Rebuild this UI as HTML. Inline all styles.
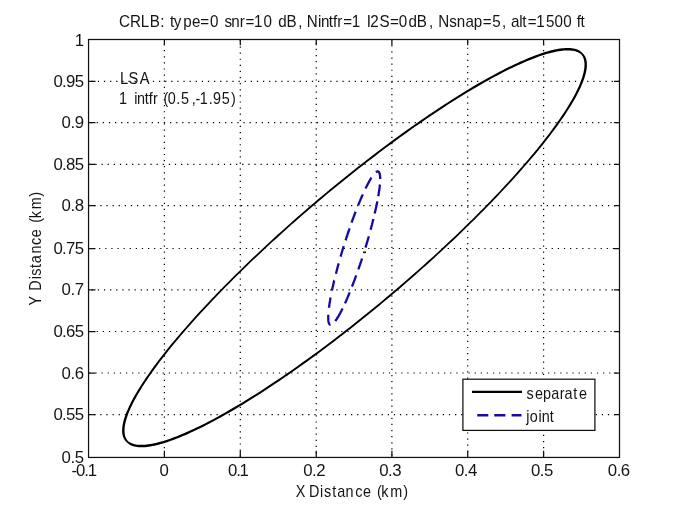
<!DOCTYPE html>
<html><head><meta charset="utf-8"><style>
html,body{margin:0;padding:0;background:#fff;}
svg{display:block;will-change:transform;}
text{font-family:"Liberation Sans",sans-serif;font-size:16px;fill:#141414;}
.tk{font-size:16.8px;}
</style></head><body>
<svg width="685" height="513" viewBox="0 0 685 513">
<rect width="685" height="513" fill="#fff"/>
<g>
<g stroke="#000" stroke-width="1.22" stroke-dasharray="1.22 4.8961" fill="none">
<line x1="164.40" y1="43.97" x2="164.40" y2="457.45" stroke-dasharray="1.22 4.8871"/>
<line x1="240.30" y1="40.31" x2="240.30" y2="457.45" stroke-dasharray="1.22 4.8871"/>
<line x1="316.25" y1="42.75" x2="316.25" y2="457.45" stroke-dasharray="1.22 4.8871"/>
<line x1="391.90" y1="39.09" x2="391.90" y2="457.45" stroke-dasharray="1.22 4.8871"/>
<line x1="467.70" y1="41.53" x2="467.70" y2="457.45" stroke-dasharray="1.22 4.8871"/>
<line x1="543.60" y1="43.97" x2="543.60" y2="457.45" stroke-dasharray="1.22 4.8871"/>
<line x1="91.74" y1="81.40" x2="619.50" y2="81.40"/>
<line x1="90.52" y1="122.60" x2="619.50" y2="122.60"/>
<line x1="89.29" y1="164.40" x2="619.50" y2="164.40"/>
<line x1="88.07" y1="205.70" x2="619.50" y2="205.70"/>
<line x1="92.96" y1="248.50" x2="619.50" y2="248.50"/>
<line x1="91.74" y1="289.90" x2="619.50" y2="289.90"/>
<line x1="90.52" y1="331.50" x2="619.50" y2="331.50"/>
<line x1="89.29" y1="373.00" x2="619.50" y2="373.00"/>
<line x1="88.07" y1="414.60" x2="619.50" y2="414.60"/>
</g>
<path d="M164.40 457.45V450.80M164.40 39.50V45.20 M240.30 457.45V450.80M240.30 39.50V45.20 M316.25 457.45V450.80M316.25 39.50V45.20 M391.90 457.45V450.80M391.90 39.50V45.20 M467.70 457.45V450.80M467.70 39.50V45.20 M543.60 457.45V450.80M543.60 39.50V45.20 M88.55 81.40H95.50M619.50 81.40H613.90 M88.55 122.60H95.50M619.50 122.60H613.90 M88.55 164.40H95.50M619.50 164.40H613.90 M88.55 205.70H95.50M619.50 205.70H613.90 M88.55 248.50H95.50M619.50 248.50H613.90 M88.55 289.90H95.50M619.50 289.90H613.90 M88.55 331.50H95.50M619.50 331.50H613.90 M88.55 373.00H95.50M619.50 373.00H613.90 M88.55 414.60H95.50M619.50 414.60H613.90" stroke="#111" stroke-width="1.25" fill="none"/>
<rect x="88.55" y="39.5" width="530.95" height="417.95" fill="none" stroke="#111" stroke-width="1.25"/>
<path d="M584.49 64.69 L584.46 66.00 L584.36 67.37 L584.20 68.80 L583.97 70.28 L583.67 71.83 L583.30 73.44 L582.86 75.10 L582.35 76.82 L581.77 78.59 L581.13 80.42 L580.41 82.30 L579.62 84.23 L578.77 86.22 L577.84 88.25 L576.85 90.34 L575.79 92.47 L574.66 94.65 L573.46 96.88 L572.19 99.16 L570.86 101.48 L569.46 103.85 L567.99 106.26 L566.46 108.72 L564.86 111.21 L563.20 113.75 L561.48 116.34 L559.69 118.96 L557.83 121.62 L555.92 124.32 L553.94 127.05 L551.90 129.83 L549.80 132.64 L547.64 135.48 L545.42 138.36 L543.15 141.27 L540.81 144.22 L538.42 147.19 L535.97 150.20 L533.47 153.23 L530.91 156.30 L528.29 159.39 L525.62 162.51 L522.91 165.66 L520.13 168.83 L517.31 172.02 L514.44 175.24 L511.52 178.48 L508.55 181.74 L505.53 185.02 L502.47 188.32 L499.36 191.63 L496.21 194.97 L493.01 198.32 L489.78 201.68 L486.50 205.06 L483.18 208.45 L479.82 211.85 L476.42 215.27 L472.98 218.68 L469.50 222.11 L465.99 225.55 L462.44 228.99 L458.86 232.43 L455.25 235.89 L451.61 239.34 L447.94 242.80 L444.24 246.26 L440.51 249.72 L436.76 253.17 L432.98 256.63 L429.17 260.08 L425.35 263.53 L421.50 266.98 L417.63 270.41 L413.74 273.85 L409.84 277.27 L405.91 280.68 L401.98 284.08 L398.02 287.48 L394.06 290.86 L390.08 294.22 L386.09 297.57 L382.09 300.91 L378.08 304.23 L374.06 307.53 L370.04 310.82 L366.01 314.08 L361.98 317.33 L357.95 320.55 L353.92 323.75 L349.88 326.93 L345.85 330.08 L341.82 333.21 L337.79 336.31 L333.77 339.38 L329.76 342.43 L325.75 345.44 L321.75 348.43 L317.76 351.38 L313.78 354.31 L309.81 357.20 L305.86 360.05 L301.92 362.87 L298.00 365.66 L294.10 368.41 L290.21 371.13 L286.34 373.80 L282.50 376.44 L278.67 379.03 L274.87 381.59 L271.09 384.11 L267.34 386.58 L263.62 389.01 L259.92 391.40 L256.25 393.74 L252.61 396.04 L249.00 398.29 L245.42 400.50 L241.88 402.66 L238.37 404.77 L234.90 406.84 L231.46 408.85 L228.06 410.82 L224.70 412.73 L221.38 414.60 L218.10 416.41 L214.86 418.17 L211.66 419.88 L208.51 421.54 L205.40 423.14 L202.34 424.69 L199.32 426.18 L196.36 427.62 L193.44 429.01 L190.56 430.34 L187.74 431.61 L184.97 432.82 L182.26 433.98 L179.59 435.08 L176.98 436.13 L174.43 437.11 L171.93 438.04 L169.49 438.91 L167.10 439.72 L164.77 440.47 L162.50 441.16 L160.29 441.79 L158.14 442.36 L156.06 442.88 L154.03 443.33 L152.07 443.72 L150.18 444.06 L148.34 444.33 L146.58 444.55 L144.88 444.70 L143.24 444.80 L141.68 444.84 L140.18 444.83 L138.76 444.75 L137.40 444.63 L136.11 444.45 L134.89 444.21 L133.74 443.93 L132.66 443.60 L131.64 443.22 L130.69 442.79 L129.79 442.31 L128.95 441.79 L128.17 441.22 L127.49 440.53 L126.93 439.75 L126.43 438.94 L125.99 438.07 L125.61 437.17 L125.29 436.21 L125.02 435.20 L124.81 434.13 L124.66 433.00 L124.56 431.82 L124.53 430.57 L124.56 429.26 L124.66 427.89 L124.82 426.46 L125.05 424.98 L125.35 423.43 L125.72 421.82 L126.16 420.16 L126.67 418.44 L127.25 416.67 L127.89 414.84 L128.61 412.96 L129.40 411.03 L130.25 409.04 L131.18 407.01 L132.17 404.92 L133.23 402.79 L134.36 400.61 L135.56 398.38 L136.83 396.10 L138.16 393.78 L139.56 391.41 L141.03 389.00 L142.56 386.54 L144.16 384.05 L145.82 381.51 L147.54 378.92 L149.33 376.30 L151.19 373.64 L153.10 370.94 L155.08 368.21 L157.12 365.43 L159.22 362.62 L161.38 359.78 L163.60 356.90 L165.87 353.99 L168.21 351.04 L170.60 348.07 L173.05 345.06 L175.55 342.03 L178.11 338.96 L180.73 335.87 L183.40 332.75 L186.11 329.60 L188.89 326.43 L191.71 323.24 L194.58 320.02 L197.50 316.78 L200.47 313.52 L203.49 310.24 L206.55 306.94 L209.66 303.63 L212.81 300.29 L216.01 296.94 L219.24 293.58 L222.52 290.20 L225.84 286.81 L229.20 283.41 L232.60 279.99 L236.04 276.58 L239.52 273.15 L243.03 269.71 L246.58 266.27 L250.16 262.83 L253.77 259.37 L257.41 255.92 L261.08 252.46 L264.78 249.00 L268.51 245.54 L272.26 242.09 L276.04 238.63 L279.85 235.18 L283.67 231.73 L287.52 228.28 L291.39 224.85 L295.28 221.41 L299.18 217.99 L303.11 214.58 L307.04 211.18 L311.00 207.78 L314.96 204.40 L318.94 201.04 L322.93 197.69 L326.93 194.35 L330.94 191.03 L334.96 187.73 L338.98 184.44 L343.01 181.18 L347.04 177.93 L351.07 174.71 L355.10 171.51 L359.14 168.33 L363.17 165.18 L367.20 162.05 L371.23 158.95 L375.25 155.88 L379.26 152.83 L383.27 149.82 L387.27 146.83 L391.26 143.88 L395.24 140.95 L399.21 138.06 L403.16 135.21 L407.10 132.39 L411.02 129.60 L414.92 126.85 L418.81 124.13 L422.68 121.46 L426.52 118.82 L430.35 116.23 L434.15 113.67 L437.93 111.15 L441.68 108.68 L445.40 106.25 L449.10 103.86 L452.77 101.52 L456.41 99.22 L460.02 96.97 L463.60 94.76 L467.14 92.60 L470.65 90.49 L474.12 88.42 L477.56 86.41 L480.96 84.44 L484.32 82.53 L487.64 80.66 L490.92 78.85 L494.16 77.09 L497.36 75.38 L500.51 73.72 L503.62 72.12 L506.68 70.57 L509.70 69.08 L512.66 67.64 L515.58 66.25 L518.46 64.92 L521.28 63.65 L524.05 62.44 L526.76 61.28 L529.43 60.18 L532.04 59.13 L534.59 58.15 L537.09 57.22 L539.53 56.35 L541.92 55.54 L544.25 54.79 L546.52 54.10 L548.73 53.47 L550.88 52.90 L552.96 52.38 L554.99 51.93 L556.95 51.54 L558.84 51.20 L560.68 50.93 L562.44 50.71 L564.14 50.56 L565.78 50.46 L567.34 50.42 L568.84 50.43 L570.26 50.51 L571.62 50.63 L572.91 50.81 L574.13 51.05 L575.28 51.33 L576.36 51.66 L577.38 52.04 L578.33 52.47 L579.23 52.95 L580.07 53.47 L580.85 54.04 L581.53 54.73 L582.09 55.51 L582.59 56.32 L583.03 57.19 L583.41 58.09 L583.73 59.05 L584.00 60.06 L584.21 61.13 L584.36 62.26 L584.46 63.44Z M586.89 63.31 L586.77 61.98 L586.57 60.70 L586.29 59.48 L585.93 58.32 L585.48 57.22 L584.95 56.19 L584.33 55.22 L583.63 54.33 L582.86 53.51 L582.07 52.72 L581.25 51.94 L580.34 51.23 L579.35 50.58 L578.29 50.01 L577.15 49.51 L575.94 49.09 L574.66 48.73 L573.32 48.45 L571.91 48.23 L570.44 48.08 L568.91 48.00 L567.32 47.98 L565.67 48.02 L563.95 48.13 L562.18 48.30 L560.34 48.53 L558.45 48.83 L556.50 49.18 L554.48 49.60 L552.41 50.07 L550.28 50.61 L548.09 51.21 L545.85 51.86 L543.55 52.57 L541.19 53.35 L538.77 54.18 L536.30 55.07 L533.78 56.02 L531.20 57.02 L528.57 58.09 L525.89 59.21 L523.15 60.38 L520.37 61.62 L517.53 62.91 L514.65 64.25 L511.71 65.66 L508.73 67.11 L505.70 68.62 L502.63 70.19 L499.51 71.80 L496.35 73.48 L493.14 75.20 L489.89 76.97 L486.60 78.80 L483.27 80.68 L479.90 82.61 L476.50 84.59 L473.05 86.61 L469.57 88.69 L466.06 90.82 L462.51 92.99 L458.93 95.21 L455.31 97.47 L451.67 99.78 L447.99 102.13 L444.29 104.53 L440.56 106.97 L436.80 109.46 L433.02 111.98 L429.22 114.55 L425.39 117.16 L421.54 119.81 L417.67 122.49 L413.78 125.21 L409.87 127.97 L405.94 130.77 L402.00 133.60 L398.04 136.47 L394.08 139.37 L390.09 142.30 L386.10 145.26 L382.10 148.26 L378.09 151.28 L374.07 154.34 L370.05 157.42 L366.02 160.53 L361.99 163.66 L357.95 166.82 L353.92 170.01 L349.88 173.22 L345.85 176.45 L341.81 179.70 L337.78 182.98 L333.76 186.27 L329.74 189.58 L325.73 192.91 L321.73 196.25 L317.74 199.61 L313.76 202.99 L309.79 206.37 L305.84 209.78 L301.90 213.19 L297.97 216.61 L294.07 220.04 L290.18 223.48 L286.31 226.93 L282.46 230.38 L278.63 233.84 L274.83 237.30 L271.05 240.76 L267.29 244.23 L263.56 247.70 L259.86 251.17 L256.19 254.63 L252.55 258.10 L248.94 261.56 L245.36 265.01 L241.81 268.46 L238.30 271.91 L234.82 275.35 L231.38 278.77 L227.98 282.19 L224.61 285.59 L221.27 288.98 L217.98 292.36 L214.74 295.73 L211.53 299.08 L208.37 302.41 L205.25 305.73 L202.17 309.03 L199.14 312.31 L196.16 315.57 L193.23 318.81 L190.35 322.03 L187.51 325.22 L184.73 328.39 L181.99 331.54 L179.31 334.66 L176.69 337.76 L174.11 340.83 L171.59 343.86 L169.13 346.87 L166.72 349.85 L164.37 352.80 L162.08 355.72 L159.84 358.60 L157.66 361.45 L155.55 364.27 L153.49 367.04 L151.49 369.79 L149.56 372.49 L147.68 375.16 L145.87 377.79 L144.13 380.38 L142.44 382.93 L140.82 385.44 L139.26 387.91 L137.77 390.33 L136.35 392.71 L134.98 395.05 L133.69 397.35 L132.46 399.60 L131.30 401.80 L130.21 403.96 L129.18 406.07 L128.22 408.13 L127.33 410.15 L126.51 412.12 L125.75 414.04 L125.07 415.92 L124.45 417.74 L123.91 419.52 L123.43 421.24 L123.03 422.92 L122.69 424.55 L122.43 426.13 L122.24 427.66 L122.13 429.14 L122.09 430.57 L122.13 431.95 L122.25 433.28 L122.45 434.56 L122.73 435.78 L123.09 436.94 L123.54 438.04 L124.07 439.07 L124.69 440.04 L125.39 440.93 L126.16 441.75 L126.95 442.54 L127.77 443.32 L128.68 444.03 L129.67 444.68 L130.73 445.25 L131.87 445.75 L133.08 446.17 L134.36 446.53 L135.70 446.81 L137.11 447.03 L138.58 447.18 L140.11 447.26 L141.70 447.28 L143.35 447.24 L145.07 447.13 L146.84 446.96 L148.68 446.73 L150.57 446.43 L152.52 446.08 L154.54 445.66 L156.61 445.19 L158.74 444.65 L160.93 444.05 L163.17 443.40 L165.47 442.69 L167.83 441.91 L170.25 441.08 L172.72 440.19 L175.24 439.24 L177.82 438.24 L180.45 437.17 L183.13 436.05 L185.87 434.88 L188.65 433.64 L191.49 432.35 L194.37 431.01 L197.31 429.60 L200.29 428.15 L203.32 426.64 L206.39 425.07 L209.51 423.46 L212.67 421.78 L215.88 420.06 L219.13 418.29 L222.42 416.46 L225.75 414.58 L229.12 412.65 L232.52 410.67 L235.97 408.65 L239.45 406.57 L242.96 404.44 L246.51 402.27 L250.09 400.05 L253.71 397.79 L257.35 395.48 L261.03 393.13 L264.73 390.73 L268.46 388.29 L272.22 385.80 L276.00 383.28 L279.80 380.71 L283.63 378.10 L287.48 375.45 L291.35 372.77 L295.24 370.05 L299.15 367.29 L303.08 364.49 L307.02 361.66 L310.98 358.79 L314.94 355.89 L318.93 352.96 L322.92 350.00 L326.92 347.00 L330.93 343.98 L334.95 340.92 L338.97 337.84 L343.00 334.73 L347.03 331.60 L351.07 328.44 L355.10 325.25 L359.14 322.04 L363.17 318.81 L367.21 315.56 L371.24 312.28 L375.26 308.99 L379.28 305.68 L383.29 302.35 L387.29 299.01 L391.28 295.65 L395.26 292.27 L399.23 288.89 L403.18 285.48 L407.12 282.07 L411.05 278.65 L414.95 275.22 L418.84 271.78 L422.71 268.33 L426.56 264.88 L430.39 261.42 L434.19 257.96 L437.97 254.50 L441.73 251.03 L445.46 247.56 L449.16 244.09 L452.83 240.63 L456.47 237.16 L460.08 233.70 L463.66 230.25 L467.21 226.80 L470.72 223.35 L474.20 219.91 L477.64 216.49 L481.04 213.07 L484.41 209.67 L487.75 206.28 L491.04 202.90 L494.28 199.53 L497.49 196.18 L500.65 192.85 L503.77 189.53 L506.85 186.23 L509.88 182.95 L512.86 179.69 L515.79 176.45 L518.67 173.23 L521.51 170.04 L524.29 166.87 L527.03 163.72 L529.71 160.60 L532.33 157.50 L534.91 154.43 L537.43 151.40 L539.89 148.39 L542.30 145.41 L544.65 142.46 L546.94 139.54 L549.18 136.66 L551.36 133.81 L553.47 130.99 L555.53 128.22 L557.53 125.47 L559.46 122.77 L561.34 120.10 L563.15 117.47 L564.89 114.88 L566.58 112.33 L568.20 109.82 L569.76 107.35 L571.25 104.93 L572.67 102.55 L574.04 100.21 L575.33 97.91 L576.56 95.66 L577.72 93.46 L578.81 91.30 L579.84 89.19 L580.80 87.13 L581.69 85.11 L582.51 83.14 L583.27 81.22 L583.95 79.34 L584.57 77.52 L585.11 75.74 L585.59 74.02 L585.99 72.34 L586.33 70.71 L586.59 69.13 L586.78 67.60 L586.89 66.12 L586.93 64.69Z" fill="#000" fill-rule="evenodd"/>
<path d="M379.9 184.5 L379.8 185.3 L379.7 186.5 L379.6 187.7 L379.4 189.0 L379.2 190.3 L379.0 191.6 L378.8 193.0 L378.6 194.4 L378.4 195.8 L378.3 196.2 M377.3 201.4 L377.2 202.0 L376.9 203.6 L376.5 205.2 L376.2 206.9 L375.8 208.6 L375.4 210.4 L375.0 212.1 L374.7 213.6 M373.4 219.0 L373.3 219.4 L372.8 221.3 L372.3 223.2 L371.9 225.1 L371.3 227.0 L370.8 228.9 L370.6 229.8 M368.8 236.3 L368.7 236.8 L368.1 238.8 L367.5 240.8 L366.9 242.8 L366.3 244.8 L365.7 246.8 L365.5 247.6 M362.0 258.5 L361.9 258.8 L361.3 260.8 L360.6 262.8 L360.0 264.7 L359.3 266.7 L358.6 268.6 L358.3 269.4 M356.2 275.3 L355.9 276.2 L355.2 278.1 L354.6 279.9 L353.9 281.7 L353.2 283.5 L352.5 285.3 L352.0 286.5 M349.7 292.4 L349.2 293.7 L348.5 295.3 L347.8 296.9 L347.2 298.4 L346.5 299.9 L345.9 301.4 L345.2 302.8 L345.0 303.4 M342.5 308.6 L342.1 309.4 L341.5 310.6 L340.9 311.7 L340.4 312.8 L339.8 313.9 L339.2 314.9 L338.7 315.8 L338.1 316.8 L337.6 317.6 L337.1 318.5 L336.6 319.2 L336.1 320.0 L335.6 320.6 L335.3 321.1 M330.5 324.8 L330.3 324.8 L330.1 324.7 L329.8 324.5 L329.6 324.3 L329.4 324.1 L329.2 323.8 L329.0 323.4 L328.9 323.0 L328.7 322.5 L328.6 322.0 L328.5 321.5 L328.4 320.9 L328.3 320.2 L328.3 319.5 L328.3 318.7 L328.2 317.9 L328.2 317.1 L328.3 316.2 L328.3 315.2 L328.3 314.8 M329.0 307.7 L329.0 307.3 L329.2 306.0 L329.4 304.7 L329.6 303.3 L329.8 301.9 L330.1 300.4 L330.3 298.9 L330.6 297.5 M332.0 290.6 L332.2 289.3 L332.6 287.6 L333.0 285.9 L333.4 284.1 L333.8 282.3 L334.2 280.5 L334.3 280.4 M335.9 273.8 L336.1 273.1 L336.6 271.2 L337.1 269.3 L337.6 267.3 L338.1 265.4 L338.7 263.4 L338.7 263.4 M340.6 256.6 L340.9 255.5 L341.5 253.5 L342.1 251.5 L342.7 249.5 L343.3 247.5 L343.8 246.1 M345.6 240.3 L345.9 239.5 L346.5 237.5 L347.2 235.5 L347.8 233.5 L348.5 231.5 L349.2 229.6 L349.6 228.4 M351.6 222.6 L351.8 221.9 L352.5 220.0 L353.2 218.2 L353.9 216.3 L354.6 214.5 L355.2 212.7 L355.6 211.7 M358.2 205.3 L358.6 204.1 L359.3 202.5 L360.0 200.9 L360.6 199.4 L361.3 197.8 L361.9 196.3 L362.6 194.9 L362.8 194.4 M365.5 188.5 L365.7 188.1 L366.3 186.9 L366.9 185.7 L367.5 184.6 L368.1 183.5 L368.7 182.4 L369.2 181.4 L369.8 180.4 L370.3 179.5 L370.8 178.6 L371.3 177.8 L371.5 177.6 M375.9 172.2 L376.2 172.0 L376.5 171.8 L376.9 171.6 L377.2 171.5 L377.5 171.5 L377.8 171.4 L378.1 171.5 L378.4 171.6 L378.6 171.7 L378.8 171.9 L379.0 172.2 L379.2 172.5 L379.4 172.9 L379.6 173.3 L379.7 173.7 L379.8 174.2 L379.9 174.8 L380.0 175.4 L380.1 176.1 L380.1 176.8 L380.2 177.5 L380.2 178.3 L380.2 178.8 L380.2 178.9" fill="none" stroke="#1409a8" stroke-width="2.3" stroke-linejoin="round"/>
<rect x="363" y="251.4" width="3" height="1.8" fill="#222"/>
<rect x="462.9" y="379.2" width="132" height="51.2" fill="#fff" stroke="#111" stroke-width="1.25"/>
<line x1="472" y1="391.9" x2="522" y2="391.9" stroke="#000" stroke-width="2.4"/>
<path d="M477.3 415.2H488.3M494.3 415.2H505.4M511.6 415.2H521.5" stroke="#1409a8" stroke-width="2.4"/>
</g>
<text x="84.25" y="476.10" text-anchor="middle" textLength="25.50" lengthAdjust="spacing" class="tk">-0.1</text>
<text x="164.10" y="476.10" text-anchor="middle" class="tk">0</text>
<text x="238.50" y="476.10" text-anchor="middle" textLength="20.80" lengthAdjust="spacing" class="tk">0.1</text>
<text x="314.35" y="476.10" text-anchor="middle" textLength="22.30" lengthAdjust="spacing" class="tk">0.2</text>
<text x="390.40" y="476.10" text-anchor="middle" textLength="22.30" lengthAdjust="spacing" class="tk">0.3</text>
<text x="466.20" y="476.10" text-anchor="middle" textLength="22.30" lengthAdjust="spacing" class="tk">0.4</text>
<text x="542.10" y="476.10" text-anchor="middle" textLength="22.30" lengthAdjust="spacing" class="tk">0.5</text>
<text x="619.00" y="476.10" text-anchor="middle" textLength="22.30" lengthAdjust="spacing" class="tk">0.6</text>
<text x="84.00" y="45.60" text-anchor="end" class="tk">1</text>
<text x="84.00" y="86.60" text-anchor="end" textLength="30.60" lengthAdjust="spacing" class="tk">0.95</text>
<text x="84.00" y="128.10" text-anchor="end" textLength="22.40" lengthAdjust="spacing" class="tk">0.9</text>
<text x="84.00" y="169.90" text-anchor="end" textLength="30.60" lengthAdjust="spacing" class="tk">0.85</text>
<text x="84.00" y="211.20" text-anchor="end" textLength="22.40" lengthAdjust="spacing" class="tk">0.8</text>
<text x="84.00" y="254.00" text-anchor="end" textLength="30.60" lengthAdjust="spacing" class="tk">0.75</text>
<text x="84.00" y="295.40" text-anchor="end" textLength="22.40" lengthAdjust="spacing" class="tk">0.7</text>
<text x="84.00" y="337.00" text-anchor="end" textLength="30.60" lengthAdjust="spacing" class="tk">0.65</text>
<text x="84.00" y="378.50" text-anchor="end" textLength="22.40" lengthAdjust="spacing" class="tk">0.6</text>
<text x="84.00" y="420.10" text-anchor="end" textLength="30.60" lengthAdjust="spacing" class="tk">0.55</text>
<text x="84.00" y="462.95" text-anchor="end" textLength="22.40" lengthAdjust="spacing" class="tk">0.5</text>
<text x="125.33 136.88 148.05 157.69 168.62 173.06 179.08 182.84 192.79 201.99 210.75 221.08 229.98 236.22 243.49 252.36 258.38 267.28 277.39 286.29 292.89 301.48 313.88 318.33 322.96 334.86 337.80 346.14 350.65 355.04 361.28 370.28 379.18 386.09 389.66 399.40 410.44 419.87 429.94 438.64 451.46 455.91 461.27 473.01 480.75 489.95 498.63 508.12 518.20 528.51 532.96 537.95 546.53 549.71 555.44 564.60 574.78 583.66 592.87 601.77 607.13 611.03" y="26.80" transform="scale(0.950 1)">CRLB: type=0 snr=10 dB, Nintfr=1 I2S=0dB, Nsnap=5, alt=1500 ft</text>
<text x="130.43 139.78 152.00" y="83.80" transform="scale(0.920 1)">LSA</text>
<text x="132.11 141.01 149.17 152.32 160.77 165.37 169.99 175.32 181.66 186.50 195.72 201.23 213.00 217.17 222.00 231.89 236.55 246.51 256.56" y="103.70" transform="scale(0.900 1)">1 intfr (0.5,-1.95)</text>
<text x="328.54 339.21 343.45 355.56 359.90 369.05 374.60 383.87 394.65 403.46 412.35 418.83 423.73 433.61 447.95" y="496.80" transform="scale(0.900 1)">X Distance (km)</text>
<text x="584.96 594.51 603.37 612.49 621.88 627.32 636.83 643.23" y="399.40" transform="scale(0.900 1)">separate</text>
<text x="584.68 588.72 598.23 601.98 610.88" y="422.40" transform="scale(0.900 1)">joint</text>
<text transform="translate(41.30 249.00) rotate(-90) scale(0.900 1)" x="-62.89 -52.22 -46.27 -33.72 -29.82 -21.17 -15.79 -5.07 4.59 13.18 22.08 29.28 34.28 44.17 58.12" y="0">Y Distance (km)</text>
</svg>
</body></html>
